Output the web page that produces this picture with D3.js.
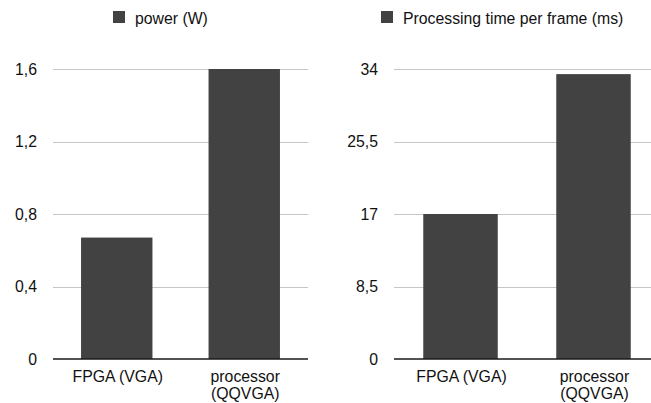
<!DOCTYPE html>
<html>
<head>
<meta charset="utf-8">
<script src="https://cdn.jsdelivr.net/npm/d3@7"></script>
<style>
  body { margin: 0; background: #fff; }
  text { font-family: "Liberation Sans", Arial, Helvetica, sans-serif; fill: #111; }
</style>
</head>
<body>
<div id="chart"></div>
<script>
var categories = ["FPGA (VGA)", "processor (QQVGA)"];
var categoryLines = [["FPGA (VGA)"], ["processor", "(QQVGA)"]];

var powerValues = [0.67, 1.6];
var powerTicks = [0, 0.4, 0.8, 1.2, 1.6];
var powerTickLabels = ["0", "0,4", "0,8", "1,2", "1,6"];

var timeValues = [17, 33.4];
var timeTicks = [0, 8.5, 17, 25.5, 34];
var timeTickLabels = ["0", "8,5", "17", "25,5", "34"];

var fullWidth = 651;
var fullHeight = 403;
var barColor = "#424242";
var fontSize = 15.8;

var svg = d3.select("#chart")
    .append("svg")
    .attr("width", fullWidth)
    .attr("height", fullHeight);

var panels = [
    {title: "power (W)", values: powerValues, ticks: powerTicks, labels: powerTickLabels,
     left: 53, right: 308, pad: 0.44, legendX: 113},
    {title: "Processing time per frame (ms)", values: timeValues, ticks: timeTicks, labels: timeTickLabels,
     left: 394, right: 660, pad: 0.44, legendX: 381}
];

panels.forEach(function (p) {
    var g = svg.append("g");

    var x = d3.scaleBand()
        .domain(categories)
        .range([p.left, p.right])
        .paddingInner(p.pad)
        .paddingOuter(p.pad / 2);

    var y = d3.scaleLinear()
        .domain([0, d3.max(p.ticks)])
        .range([359, 69]);

    // gridlines (skip zero, it gets the dark baseline)
    g.selectAll(".grid")
        .data(p.ticks.filter(d => d > 0))
        .enter()
        .append("line")
        .attr("x1", p.left).attr("x2", p.right)
        .attr("y1", d => Math.round(y(d)) + 0.5)
        .attr("y2", d => Math.round(y(d)) + 0.5)
        .attr("stroke", "#c6c6c6")
        .attr("stroke-width", 1);

    // tick labels
    g.selectAll(".tick-label")
        .data(p.ticks)
        .enter()
        .append("text")
        .attr("x", p.left - 16)
        .attr("y", d => y(d))
        .attr("dy", "0.35em")
        .attr("text-anchor", "end")
        .style("font-size", fontSize + "px")
        .text((d, i) => p.labels[i]);

    // bars
    g.selectAll(".bar")
        .data(p.values)
        .enter()
        .append("rect")
        .attr("x", (d, i) => x(categories[i]))
        .attr("y", d => y(d))
        .attr("width", x.bandwidth())
        .attr("height", d => y(0) - y(d))
        .attr("fill", barColor);

    // baseline
    g.append("line")
        .attr("x1", p.left).attr("x2", p.right)
        .attr("y1", y(0)).attr("y2", y(0))
        .attr("stroke", "#1a1a1a")
        .attr("stroke-width", 1.6);

    // category labels
    categories.forEach(function (c, i) {
        var t = g.append("text")
            .attr("x", x(c) + x.bandwidth() / 2 + 1)
            .attr("y", 382)
            .attr("text-anchor", "middle")
            .style("font-size", fontSize + "px");
        categoryLines[i].forEach(function (line, j) {
            t.append("tspan")
                .attr("x", x(c) + x.bandwidth() / 2 + 1)
                .attr("dy", j === 0 ? 0 : 17)
                .text(line);
        });
    });

    // legend
    g.append("rect")
        .attr("x", p.legendX).attr("y", 11)
        .attr("width", 12).attr("height", 12)
        .attr("fill", barColor);
    g.append("text")
        .attr("x", p.legendX + 22)
        .attr("y", 18)
        .attr("dy", "0.35em")
        .style("font-size", fontSize + "px")
        .text(p.title);
});
</script>
</body>
</html>
